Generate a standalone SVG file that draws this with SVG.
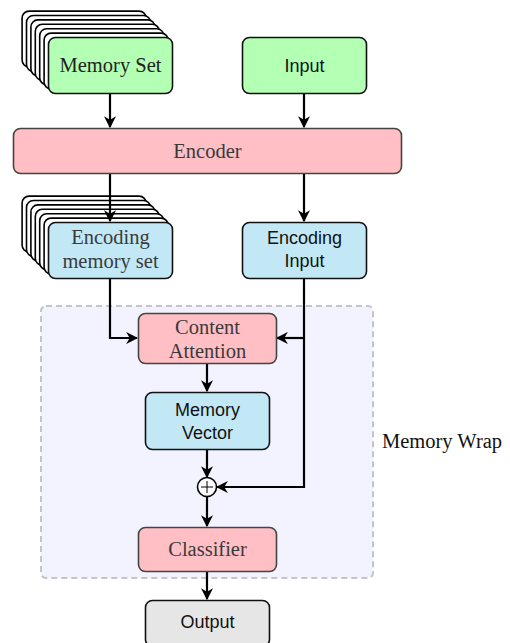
<svg xmlns="http://www.w3.org/2000/svg" width="510" height="643" viewBox="0 0 510 643">
<style>
.serif{font-family:"Liberation Serif","DejaVu Serif",serif;font-size:20.5px;fill:#3a3a3a;text-anchor:middle}
.sans{font-family:"Liberation Sans","DejaVu Sans",sans-serif;font-size:18px;fill:#111;text-anchor:middle}
.green{fill:#b3ffb3;stroke:#111;stroke-width:1.6}
.pink{fill:#ffbfc4;stroke:#444;stroke-width:1.6}
.blue{fill:#c2e8f6;stroke:#111;stroke-width:1.6}
.gray{fill:#e6e6e6;stroke:#111;stroke-width:1.6}
.copy{fill:#fff;stroke:#000;stroke-width:1.6}
.conn{fill:none;stroke:#000;stroke-width:2.2}
</style>
<defs>
<marker id="arr" viewBox="0 0 10 10" refX="9" refY="5" markerWidth="5.5" markerHeight="5.5" orient="auto" markerUnits="strokeWidth">
<path d="M0,0 L10,5 L0,10 L3,5 Z" fill="#000"/>
</marker>
<g id="stackcopies">
<rect x="-26.4" y="-26.4" width="124" height="56" rx="7" class="copy"/>
<rect x="-22" y="-22" width="124" height="56" rx="7" class="copy"/>
<rect x="-17.6" y="-17.6" width="124" height="56" rx="7" class="copy"/>
<rect x="-13.2" y="-13.2" width="124" height="56" rx="7" class="copy"/>
<rect x="-8.8" y="-8.8" width="124" height="56" rx="7" class="copy"/>
<rect x="-4.4" y="-4.4" width="124" height="56" rx="7" class="copy"/>
</g>
</defs>

<g id="memorywrap">
<rect x="41" y="306" width="332" height="272" rx="5" fill="#f3f3ff" stroke="#c4c4cc" stroke-width="2" stroke-dasharray="6,4"/>
<text x="382" y="448" class="serif" style="fill:#111;text-anchor:start">Memory Wrap</text>
</g>

<g id="memoryset">
<use href="#stackcopies" x="48.5" y="37.5"/>
<rect x="48.5" y="37.5" width="124" height="56" rx="7" class="green"/>
<text x="110.5" y="72" class="serif" style="fill:#222">Memory Set</text>
</g>

<g id="input">
<rect x="242.5" y="37.5" width="124" height="56" rx="7" class="green"/>
<text x="304.5" y="72" class="sans">Input</text>
</g>

<g id="encoder">
<rect x="13.5" y="128.5" width="388" height="45" rx="7" class="pink"/>
<text x="207.5" y="158" class="serif">Encoder</text>
</g>

<g id="connectors">
<line x1="110" y1="94" x2="110" y2="127" class="conn" marker-end="url(#arr)"/>
<line x1="304" y1="94" x2="304" y2="127" class="conn" marker-end="url(#arr)"/>
<line x1="304" y1="174" x2="304" y2="221" class="conn" marker-end="url(#arr)"/>
<polyline points="110,278 110,338 137,338" class="conn" marker-end="url(#arr)"/>
<polyline points="304,278 304,487 217,487" class="conn" marker-end="url(#arr)"/>
<line x1="304" y1="338" x2="277" y2="338" class="conn" marker-end="url(#arr)"/>
<line x1="207" y1="364" x2="207" y2="391" class="conn" marker-end="url(#arr)"/>
<line x1="207" y1="450" x2="207" y2="477" class="conn" marker-end="url(#arr)"/>
<line x1="207" y1="497" x2="207" y2="526" class="conn" marker-end="url(#arr)"/>
<line x1="207" y1="572" x2="207" y2="599" class="conn" marker-end="url(#arr)"/>
</g>

<g id="encodingmemoryset">
<use href="#stackcopies" x="48.5" y="222.5"/>
<rect x="48.5" y="222.5" width="124" height="56" rx="7" class="blue"/>
<text x="110.5" y="244" class="serif">Encoding</text>
<text x="110.5" y="268" class="serif">memory set</text>
</g>
<line x1="110" y1="174" x2="110" y2="221" class="conn" marker-end="url(#arr)"/>

<g id="encodinginput">
<rect x="242.5" y="222.5" width="124" height="56" rx="7" class="blue"/>
<text x="304.5" y="244" class="sans">Encoding</text>
<text x="304.5" y="267" class="sans">Input</text>
</g>

<g id="contentattention">
<rect x="138.5" y="313.5" width="138" height="50" rx="7" class="pink"/>
<text x="207.5" y="334" class="serif">Content</text>
<text x="207.5" y="358" class="serif">Attention</text>
</g>

<g id="memoryvector">
<rect x="145.5" y="392.5" width="124" height="57" rx="7" class="blue"/>
<text x="207.5" y="416" class="sans">Memory</text>
<text x="207.5" y="439" class="sans">Vector</text>
</g>

<g id="plus">
<circle cx="207" cy="487" r="9.5" fill="#fff" stroke="#000" stroke-width="1.6"/>
<line x1="201" y1="487" x2="213" y2="487" stroke="#000" stroke-width="1"/>
<line x1="207" y1="481" x2="207" y2="493" stroke="#000" stroke-width="1"/>
</g>

<g id="classifier">
<rect x="138.5" y="527.5" width="138" height="44" rx="7" class="pink"/>
<text x="207.5" y="556" class="serif">Classifier</text>
</g>

<g id="output">
<rect x="145.5" y="600.5" width="124" height="46" rx="7" class="gray"/>
<text x="207.5" y="628" class="sans">Output</text>
</g>
</svg>
